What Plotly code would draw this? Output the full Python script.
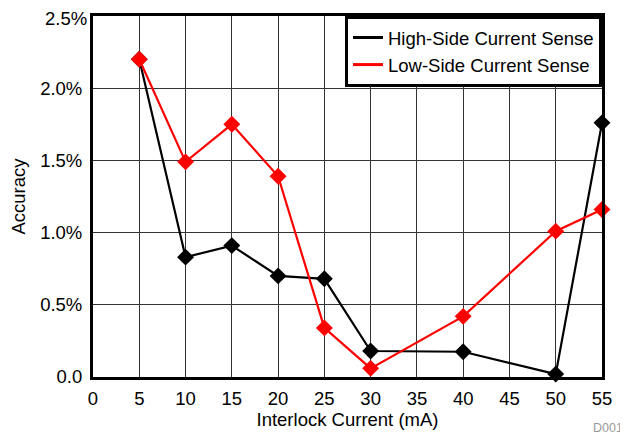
import plotly.graph_objects as go

current_ma = [5, 10, 15, 20, 25, 30, 40, 50, 55]
high_side = [0.0220, 0.0083, 0.0091, 0.0070, 0.0068, 0.0018, 0.00175, 0.0002, 0.0176]
low_side = [0.0220, 0.0149, 0.0175, 0.0139, 0.0034, 0.0006, 0.0042, 0.0101, 0.0116]
series_names = ["High-Side Current Sense", "Low-Side Current Sense"]
x_ticks = list(range(0, 60, 5))
y_ticks = [0, 0.005, 0.010, 0.015, 0.020, 0.025]
y_tick_labels = ["0.0", "0.5%", "1.0%", "1.5%", "2.0%", "2.5%"]

FS = 18.5

fig = go.Figure()
for name, vals, col in [(series_names[0], high_side, "black"), (series_names[1], low_side, "#ff0000")]:
    fig.add_trace(go.Scatter(x=current_ma, y=vals, mode="lines+markers", showlegend=False,
                             line=dict(color=col, width=2.2),
                             marker=dict(symbol="diamond", size=13, color=col),
                             cliponaxis=False))
for name, col in [(series_names[0], "black"), (series_names[1], "#ff0000")]:
    fig.add_trace(go.Scatter(x=[None], y=[None], mode="lines", name=name,
                             line=dict(color=col, width=3)))

font = "Liberation Sans, Arial, sans-serif"
# the top tick label would be dropped at the figure edge, so it is drawn as an annotation
annotations = [dict(text=y_tick_labels[-1], xref="paper", yref="y", x=0, y=y_ticks[-1],
                    xanchor="right", yanchor="middle", xshift=-4, yshift=-2, showarrow=False,
                    font=dict(size=FS, color="black")),
               dict(text="D001", xref="paper", yref="paper", x=1.045, y=-0.141,
                    xanchor="right", yanchor="middle", showarrow=False,
                    font=dict(size=12.5, color="#999999"))]

# page body has an 8px margin, so the figure is sized/offset to compensate
fig.update_layout(
    width=620, height=430,
    margin=dict(l=85, r=26, t=8, b=61),
    paper_bgcolor="white", plot_bgcolor="white",
    font=dict(family=font, size=FS, color="black"),
    xaxis=dict(range=[0, 55], tickvals=x_ticks, showgrid=True, gridcolor="#333", gridwidth=1,
               showline=True, linecolor="black", linewidth=3, mirror=True, ticks="",
               automargin=False, ticklabelstandoff=3,
               zeroline=False, title=dict(text="Interlock Current (mA)", standoff=0, font=dict(size=FS))),
    yaxis=dict(range=[0, 0.025], tickvals=y_ticks[:-1], ticktext=y_tick_labels[:-1], showgrid=True,
               gridcolor="#333", gridwidth=1, showline=True, linecolor="black", linewidth=3,
               mirror=True, ticks="", zeroline=False, automargin=False, ticklabelstandoff=4,
               title=dict(text="Accuracy", standoff=12, font=dict(size=FS))),
    legend=dict(x=1, y=1, xanchor="right", yanchor="top", bgcolor="white",
                bordercolor="black", borderwidth=3, font=dict(size=FS),
                tracegroupgap=0, itemwidth=30),
    annotations=annotations,
)
fig.write_html("out.html")
